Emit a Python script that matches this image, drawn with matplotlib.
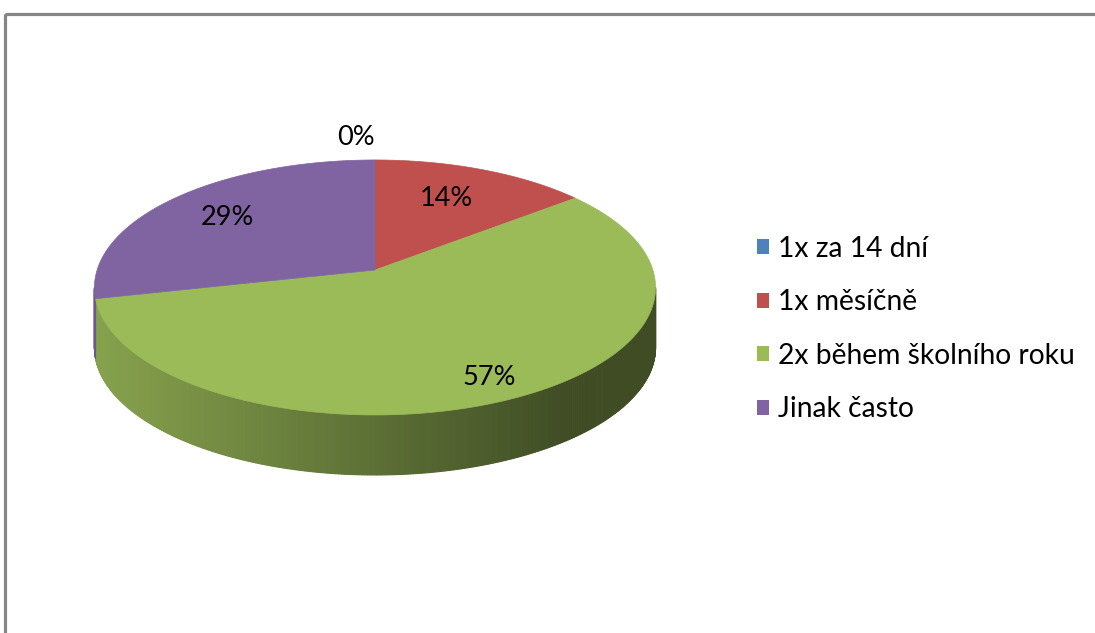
import numpy as np
import matplotlib.pyplot as plt
from matplotlib.patches import Polygon, Rectangle, Patch
from matplotlib.colors import to_rgb

# data
categories = ['1x za 14 dní', '1x měsíčně', '2x během školního roku', 'Jinak často']
counts = [0, 1, 4, 2]
pct_labels = ['0%', '14%', '57%', '29%']
colors = ['#4F81BD', '#C0504D', '#9BBB59', '#8064A2']

# label placement (radius as fraction of pie, horizontal alignment)
label_radius = [1.24, 0.64, 0.85, 0.72]
label_ha = ['right', 'center', 'center', 'center']

# pie geometry in pixel space (perspective via homography)
cx, cy = 375, 270
a, b, c = 277.9, 125.1, 0.137
depth = 60

plt.rcParams['font.family'] = ['Lato', 'DejaVu Sans']

fig = plt.figure(figsize=(10.95, 6.33), dpi=100)
ax = fig.add_axes([0, 0, 1, 1])
ax.set_xlim(0, 1095)
ax.set_ylim(633, 0)
ax.axis('off')


def project(phi, r=1.0):
    u = r * np.cos(phi)
    v = r * np.sin(phi)
    d = 1 + c * v
    return cx + a * u / d, cy - b * v / d


def shade(col, x):
    # side gets darker from left to right
    t = np.clip((x - 94) / (570 - 94), 0, 1)
    f = 0.87 - 0.46 * t
    return tuple(ch * f for ch in to_rgb(col))


fracs = np.array(counts) / sum(counts)
bounds = np.deg2rad(90 - 360 * np.concatenate([[0], np.cumsum(fracs)]))

# visible side range (between silhouette points)
vis_lo = np.pi + np.arcsin(c)
vis_hi = 2 * np.pi - np.arcsin(c)

# sides
for i, col in enumerate(colors):
    start, end = bounds[i], bounds[i + 1]
    if start == end:
        continue
    phis = np.linspace(end, start, 400)
    phis_n = np.mod(phis, 2 * np.pi)
    for p0, p1 in zip(phis_n[:-1], phis_n[1:]):
        if p1 < p0:
            continue
        lo, hi = max(p0, vis_lo), min(p1, vis_hi)
        if lo >= hi:
            continue
        x0, y0 = project(lo)
        x1, y1 = project(hi)
        quad = [(x0, y0), (x1, y1), (x1, y1 + depth), (x0, y0 + depth)]
        fc = shade(col, (x0 + x1) / 2)
        ax.add_patch(Polygon(quad, closed=True, facecolor=fc, edgecolor=fc, lw=0.8))

# top face
for i, col in enumerate(colors):
    start, end = bounds[i], bounds[i + 1]
    if start == end:
        continue
    phis = np.linspace(start, end, 200)
    xs, ys = project(phis)
    pts = [(cx, cy)] + list(zip(xs, ys))
    ax.add_patch(Polygon(pts, closed=True, facecolor=col, edgecolor=col, lw=0.5))

# percentage labels
for i, lab in enumerate(pct_labels):
    mid = (bounds[i] + bounds[i + 1]) / 2
    lx, ly = project(mid, label_radius[i])
    if i == 1:
        ly -= 5
    ax.text(lx, ly, lab, ha=label_ha[i], va='center', fontsize=19.5, color='black')

# legend
handles = [Patch(facecolor=col, edgecolor='none') for col in colors]
ax.legend(handles, categories, loc='center left', bbox_to_anchor=(757, 329),
          bbox_transform=ax.transData, frameon=False, fontsize=20.3,
          handlelength=0.43, handleheight=0.43, handletextpad=0.33,
          labelspacing=0.98, borderpad=0, borderaxespad=0)

# chart border
ax.add_patch(Rectangle((4.5, 14), 1200, 700, fill=False, edgecolor='#868686', lw=2.3))

fig.savefig('out.png', dpi=100)
